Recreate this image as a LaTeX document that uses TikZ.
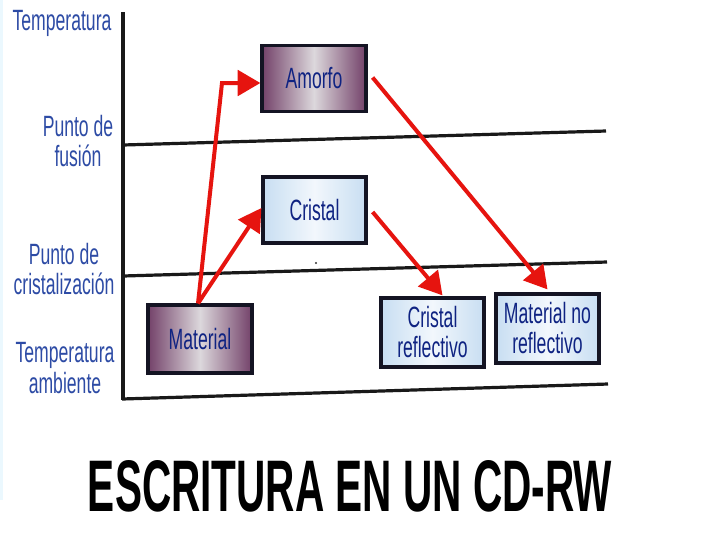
\documentclass[tikz,border=0pt]{standalone}
\usepackage{fontspec}
\setmainfont[FakeStretch=0.6]{Liberation Sans}
\newfontfamily\titlefont{Liberation Sans}
\usetikzlibrary{arrows.meta,shadings,calc}
\definecolor{lblue}{RGB}{45,75,165}
\definecolor{tblue}{RGB}{15,35,130}
\definecolor{aRed}{RGB}{230,20,15}
\definecolor{pEdge}{RGB}{115,65,105}
\definecolor{pMid}{RGB}{220,216,220}
\definecolor{cEdge}{RGB}{200,222,242}
\definecolor{cMid}{RGB}{242,247,252}
\definecolor{navy}{RGB}{20,20,35}
\tikzset{
  lbl/.style={align=center, text=lblue, font=\fontsize{22pt}{23pt}\selectfont, inner sep=0pt},
  purplebox/.style={draw=navy, line width=2.4pt, left color=pEdge, right color=pEdge, middle color=pMid,
     text=tblue, font=\fontsize{22pt}{22.5pt}\selectfont, align=center, inner sep=0pt},
  crystbox/.style={draw=navy, line width=2.4pt, left color=cEdge, right color=cEdge, middle color=cMid,
     text=tblue, font=\fontsize{22pt}{22.5pt}\selectfont, align=center, inner sep=0pt},
  levelline/.style={draw=black!90, line width=2.4pt},
  redarrow/.style={draw=aRed, line width=3pt, -{Triangle[length=17pt,width=19pt]}},
}
\begin{document}
\begin{tikzpicture}[x=0.75pt,y=-0.75pt]
\useasboundingbox (0,0) rectangle (720,540);
\fill[white] (0,0) rectangle (720,540);
\fill[cyan!8] (0,0) rectangle (3,500);
% axis and levels
\coordinate (ax0) at (123,12);
\coordinate (ax1) at (123,400);
\draw[levelline] (ax0) -- (ax1);
\draw[levelline] (123,145) -- (606,131);
\draw[levelline] (123,276) -- (607,262);
\draw[levelline] (122,399) -- (608,384);
\fill[black!80] (316,263) circle (1.2);
% labels
\node[lbl] (l1) at (62,23) {Temperatura};
\node[lbl] (l2) at (78,141) {Punto de\\fusión};
\node[lbl] (l3) at (64,269) {Punto de\\cristalización};
\node[lbl] (l4) at (65,368) {Temperatura\\ambiente};
% boxes
\node[purplebox, minimum width=78pt, minimum height=50pt] (Amorfo) at (314,78.5) {Amorfo};
\node[crystbox, minimum width=77.25pt, minimum height=49.5pt] (Cristal) at (314.5,210) {Cristal};
\node[purplebox, minimum width=78pt, minimum height=51pt] (Material) at (200,339) {Material};
\node[crystbox, minimum width=77.25pt, minimum height=51.75pt] (CR) at (432.5,332.5) {Cristal\\reflectivo};
\node[crystbox, minimum width=77.25pt, minimum height=51.75pt] (MNR) at (547.5,328.5) {Material no\\reflectivo};
% arrows
\coordinate (k1) at (222,83);
\draw[redarrow] ([xshift=-1.5pt]Material.north) -- (k1) -- (k1 -| Amorfo.west);
\draw[redarrow] ([xshift=-1.5pt]Material.north) -- ($(Cristal.west)+(0,-2)$);
\draw[redarrow] ($(Cristal.east)+(5,2)$) -- ($(CR.north)+(10,-1)$);
\draw[redarrow] ($(Amorfo.east)+(5,-1)$) -- ($(MNR.north)+(0,-3)$);
% title
\node[anchor=base, inner sep=0pt] (title) at (350,511) {\resizebox{393pt}{38.25pt}{\titlefont\bfseries ESCRITURA EN UN CD-RW}};
\end{tikzpicture}
\end{document}
